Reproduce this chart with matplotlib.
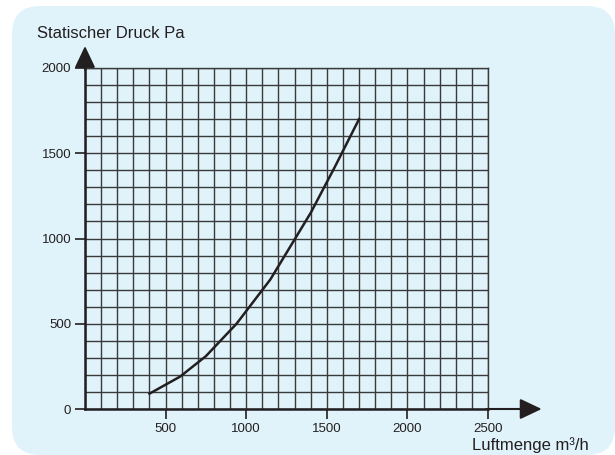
import matplotlib
matplotlib.use("Agg")
import matplotlib.pyplot as plt
from matplotlib.patches import FancyBboxPatch
from matplotlib.transforms import IdentityTransform

plt.rcParams['font.family'] = ['Liberation Sans', 'DejaVu Sans']

# curve
luftmenge = [400, 590, 750, 940, 1150, 1400, 1550, 1700]
druck = [90, 190, 310, 500, 760, 1150, 1420, 1700]

x_ticks = [500, 1000, 1500, 2000, 2500]
y_ticks = [0, 500, 1000, 1500, 2000]
x_grid = list(range(0, 2501, 100))
y_grid = list(range(0, 2001, 100))

panel_col = '#e0f3fb'
grid_col = '#3a3a3a'
ink = '#231f20'

fig = plt.figure(figsize=(6.15, 4.55), dpi=100)
fig.patch.set_facecolor('white')

# rounded light blue panel behind everything (pixel coords)
panel = FancyBboxPatch((12, 0), 603, 449, boxstyle="round,pad=0,rounding_size=28",
                       transform=IdentityTransform(), facecolor=panel_col,
                       edgecolor='none', zorder=-10)
fig.add_artist(panel)

ax = fig.add_axes([85/615, 1 - 409/455, 403/615, 341/455])
ax.set_facecolor('none')
ax.set_xlim(0, 2500)
ax.set_ylim(0, 2000)

ax.set_xticks(x_ticks)
ax.set_yticks(y_ticks)
ax.set_xticks(x_grid, minor=True)
ax.set_yticks(y_grid, minor=True)
ax.tick_params(which='minor', length=0)
ax.tick_params(which='major', length=7, width=1.2, color=ink, labelsize=9.5,
               labelcolor=ink, pad=3)
ax.grid(which='both', color=grid_col, linewidth=1.0)
ax.set_axisbelow(True)

for s in ['top', 'right']:
    ax.spines[s].set_color(grid_col)
    ax.spines[s].set_linewidth(1.0)
for s in ['left', 'bottom']:
    ax.spines[s].set_color(ink)
    ax.spines[s].set_linewidth(1.8)
    ax.spines[s].set_zorder(5)

ax.plot(luftmenge, druck, color=ink, linewidth=1.8, zorder=4)

# axis arrows
arrow = dict(arrowstyle='-|>,head_length=0.95,head_width=0.45', color=ink,
             linewidth=1.5, shrinkA=0, shrinkB=0, mutation_scale=14)
ax.annotate('', xy=(2833, 0), xytext=(2490, 0), arrowprops=arrow,
            annotation_clip=False, zorder=6)
ax.annotate('', xy=(0, 2129), xytext=(0, 1990), arrowprops=arrow,
            annotation_clip=False, zorder=6)

fig.text(37/615, 1 - 33/455, 'Statischer Druck Pa', fontsize=12, color=ink,
         ha='left', va='center')
fig.text(589/615, 1 - 445/455, 'Luftmenge m³/h', fontsize=12, color=ink,
         ha='right', va='center')

fig.savefig('out.png', dpi=100)
